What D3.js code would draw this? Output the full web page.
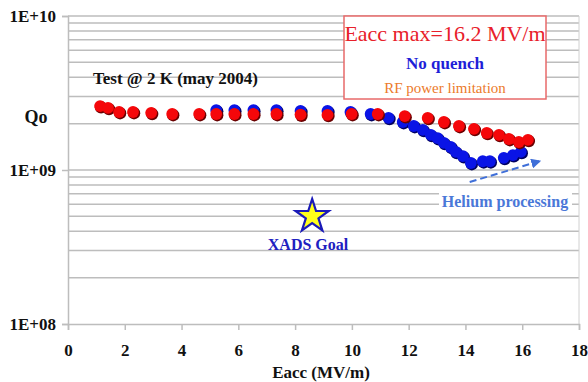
<!DOCTYPE html>
<html>
<head>
<meta charset="utf-8">
<script src="https://cdn.jsdelivr.net/npm/d3@7"></script>
<style>
  body { margin: 0; background: #fff; }
  svg { display: block; }
  svg text { font-family: "Liberation Serif", "Times New Roman", Times, "DejaVu Serif", serif; }
</style>
</head>
<body>
<svg id="chart" width="588" height="382"></svg>
<script>
// data: Eacc (MV/m) and Qo
const redEacc = [1.13, 1.41, 1.80, 2.29, 2.93, 3.67, 4.62, 5.22, 5.86, 6.53, 7.34, 8.19, 9.14, 9.99, 10.91, 11.86, 12.67, 13.24, 13.77, 14.30, 14.75, 15.18, 15.53, 15.88, 16.20];
const redQo   = [2.60e9, 2.53e9, 2.38e9, 2.38e9, 2.35e9, 2.31e9, 2.31e9, 2.31e9, 2.31e9, 2.31e9, 2.31e9, 2.29e9, 2.28e9, 2.31e9, 2.31e9, 2.24e9, 2.18e9, 2.05e9, 1.93e9, 1.85e9, 1.74e9, 1.69e9, 1.59e9, 1.52e9, 1.57e9];
const blueEacc = [5.22, 5.86, 6.53, 7.34, 8.19, 9.14, 9.95, 10.66, 11.29, 11.79, 12.18, 12.50, 12.78, 13.02, 13.24, 13.48, 13.66, 13.91, 14.19, 14.61, 14.86, 15.35, 15.67, 15.95];
const blueQo   = [2.45e9, 2.45e9, 2.45e9, 2.45e9, 2.42e9, 2.42e9, 2.38e9, 2.31e9, 2.18e9, 2.05e9, 1.93e9, 1.82e9, 1.69e9, 1.61e9, 1.50e9, 1.41e9, 1.31e9, 1.23e9, 1.11e9, 1.14e9, 1.14e9, 1.20e9, 1.25e9, 1.31e9];
const xTicks = [0, 2, 4, 6, 8, 10, 12, 14, 16, 18];
const yTicks = [1e8, 1e9, 1e10];
const yTickLabels = ['1E+08', '1E+09', '1E+10'];
const goal = [8.6, 5.0e8];        // XADS goal star
const arrowFrom = [14.15, 8.35e8]; // helium processing arrow
const arrowTo = [16.6, 1.14e9];

const serif = '"Liberation Serif", "Times New Roman", Times, "DejaVu Serif", serif';

const svg = d3.select('#chart');
const plotLeft = 68, plotRight = 579, plotTop = 16, plotBottom = 324;

const x = d3.scaleLinear().domain([0, 18]).range([plotLeft, plotRight]);
const y = d3.scaleLog().domain([1e8, 1e10]).range([plotBottom, plotTop]);

const gridColor = '#bdbdbd';

// minor + major log gridlines
const gridVals = [];
for (let e = 8; e < 10; e++) {
    for (let m = 1; m <= 9; m++) gridVals.push(m * Math.pow(10, e));
}
gridVals.push(1e10);
svg.append('g')
    .selectAll('line').data(gridVals.filter(d => d > 1e8)).enter()
    .append('line')
    .attr('x1', plotLeft).attr('x2', plotRight)
    .attr('y1', d => y(d)).attr('y2', d => y(d))
    .attr('stroke', gridColor).attr('stroke-width', 1.5);

// right border
svg.append('line')
    .attr('x1', plotRight).attr('x2', plotRight).attr('y1', plotTop).attr('y2', plotBottom)
    .attr('stroke', '#d0d0d0').attr('stroke-width', 1);

// axes
const xAxis = svg.append('g')
    .attr('transform', 'translate(0,' + plotBottom + ')')
    .call(d3.axisBottom(x).tickValues(xTicks).tickSize(6).tickPadding(14).tickFormat(d3.format('d')));
const yAxis = svg.append('g')
    .attr('transform', 'translate(' + plotLeft + ',0)')
    .call(d3.axisLeft(y).tickValues(yTicks).tickSize(6).tickPadding(6).tickFormat((d, i) => yTickLabels[i]));

[xAxis, yAxis].forEach(function(a) {
    a.attr('font-family', serif);
    a.select('.domain').attr('stroke', gridColor).attr('stroke-width', 1.5);
    a.selectAll('.tick line').attr('stroke', gridColor).attr('stroke-width', 1.5);
    a.selectAll('.tick text')
        .attr('fill', '#111')
        .style('font-size', '17px')
        .style('font-weight', 'bold');
});
xAxis.selectAll('.tick text').attr('dy', '0.71em');

function label(px, py, txt, size, color, bold, anchor) {
    return svg.append('text')
        .attr('x', px).attr('y', py)
        .attr('text-anchor', anchor || 'middle')
        .attr('font-family', serif)
        .style('font-size', size + 'px')
        .style('font-weight', bold ? 'bold' : 'normal')
        .attr('fill', color)
        .text(txt);
}

// axis titles
label(321, 378, 'Eacc (MV/m)', 17, '#111', true);
label(36, 123, 'Qo', 18, '#111', true);

// helium processing label with white background
svg.append('rect')
    .attr('x', 439).attr('y', 192).attr('width', 133).attr('height', 20)
    .attr('fill', '#fff');
label(505, 207, 'Helium processing', 16, '#4a78d8', true);

// dashed arrow
svg.append('defs').append('marker')
    .attr('id', 'arrow').attr('viewBox', '0 0 10 10')
    .attr('refX', 8).attr('refY', 5)
    .attr('markerWidth', 5).attr('markerHeight', 5)
    .attr('orient', 'auto')
    .append('path').attr('d', 'M0,0 L10,5 L0,10 z').attr('fill', '#3f6fd8');
svg.append('line')
    .attr('x1', x(arrowFrom[0])).attr('y1', y(arrowFrom[1]))
    .attr('x2', x(arrowTo[0])).attr('y2', y(arrowTo[1]))
    .attr('stroke', '#3f6fd8').attr('stroke-width', 2)
    .attr('stroke-dasharray', '7,4')
    .attr('marker-end', 'url(#arrow)');

// data dots (drawn with a small dark shadow)
function drawDots(xs, ys, fill, shade) {
    const pts = xs.map((d, i) => [d, ys[i]]);
    const g = svg.append('g');
    g.selectAll('circle.shadow').data(pts).enter()
        .append('circle').attr('class', 'shadow')
        .attr('cx', d => x(d[0]) + 1).attr('cy', d => y(d[1]) + 1.2)
        .attr('r', 6.2).attr('fill', shade);
    g.selectAll('circle.dot').data(pts).enter()
        .append('circle').attr('class', 'dot')
        .attr('cx', d => x(d[0])).attr('cy', d => y(d[1]))
        .attr('r', 5.9).attr('fill', fill);
}
drawDots(blueEacc, blueQo, '#0a14e6', '#000060');
drawDots(redEacc, redQo, '#f5070a', '#6a0000');

// star for XADS goal
const star = d3.symbol().type(d3.symbolStar).size(340);
svg.append('path')
    .attr('d', star())
    .attr('transform', 'translate(' + x(goal[0]) + ',' + y(goal[1]) + ')')
    .attr('fill', '#ffff1a').attr('stroke', '#1a1ab8').attr('stroke-width', 2.2)
    .attr('stroke-linejoin', 'miter');
label(308, 250, 'XADS Goal', 16, '#2020c0', true);

// test label
label(93, 84, 'Test @ 2 K (may 2004)', 17, '#111', true, 'start');

// info box
svg.append('rect')
    .attr('x', 344).attr('y', 16).attr('width', 202).attr('height', 83)
    .attr('fill', '#fff').attr('stroke', '#e86a6a').attr('stroke-width', 1.5);
label(445, 41, 'Eacc max=16.2 MV/m', 22, '#e8202a', false);
label(445, 69, 'No quench', 17, '#1e1ed8', true);
label(445, 93, 'RF power limitation', 15, '#ec7a2a', false);
</script>
</body>
</html>
